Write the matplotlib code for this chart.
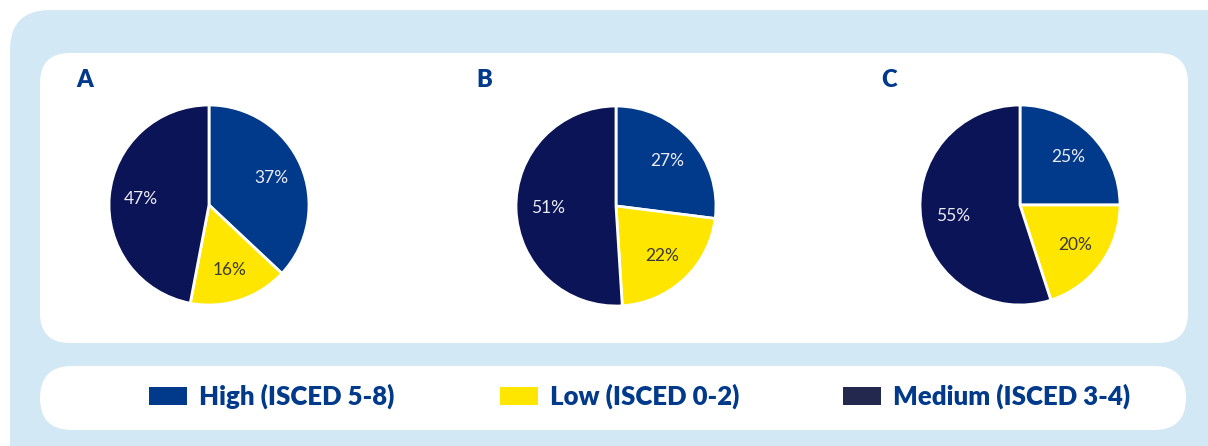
import matplotlib.pyplot as plt
from matplotlib.patches import FancyBboxPatch, Rectangle

plt.rcParams['font.family'] = ['Lato', 'DejaVu Sans']

# data
panels = ["A", "B", "C"]
categories = ["High (ISCED 5-8)", "Low (ISCED 0-2)", "Medium (ISCED 3-4)"]
shares_a = [37, 16, 47]
shares_b = [27, 22, 51]
shares_c = [25, 20, 55]
all_shares = [shares_a, shares_b, shares_c]

pie_colors = ["#013A8B", "#FFE600", "#0A1456"]
legend_colors = ["#013A8B", "#FFE600", "#23284F"]
label_colors = ["#ECECF4", "#3A3A3A", "#ECECF4"]
dark_blue = "#013A8B"

W, H = 1208, 446
fig = plt.figure(figsize=(W / 100, H / 100), dpi=100)

# background in pixel coordinates
bg = fig.add_axes([0, 0, 1, 1])
bg.set_xlim(0, W)
bg.set_ylim(H, 0)
bg.axis("off")
bg.add_patch(FancyBboxPatch((10, 10), 1260, 500,
                            boxstyle="round,pad=0,rounding_size=40",
                            fc="#D3E8F5", ec="none"))
bg.add_patch(FancyBboxPatch((40, 53), 1148, 290,
                            boxstyle="round,pad=0,rounding_size=30",
                            fc="white", ec="none"))
bg.add_patch(FancyBboxPatch((40, 366), 1146, 64,
                            boxstyle="round,pad=0,rounding_size=32",
                            fc="white", ec="none"))

centers = [(209, 205), (616, 206), (1020, 205)]
title_pos = [(85, 80), (484, 80), (889, 80)]
r = 100

for name, shares, (cx, cy), (tx, ty) in zip(panels, all_shares, centers, title_pos):
    bg.text(tx, ty, name, fontsize=17, fontweight="heavy", color=dark_blue,
            ha="center", va="center")
    ax = fig.add_axes([(cx - r) / W, 1 - (cy + r) / H, 2 * r / W, 2 * r / H])
    wedges, texts, autotexts = ax.pie(
        shares, colors=pie_colors, startangle=90, counterclock=False,
        autopct="%d%%", pctdistance=0.68, radius=1,
        wedgeprops=dict(edgecolor="white", linewidth=2),
        textprops=dict(fontsize=12.5))
    for t, c in zip(autotexts, label_colors):
        t.set_color(c)
    ax.set_xlim(-1, 1)
    ax.set_ylim(-1, 1)
    ax.set_aspect("equal")

# legend row
patch_x = [149, 500, 843]
for x, cat, col in zip(patch_x, categories, legend_colors):
    bg.add_patch(Rectangle((x, 387), 38, 18, fc=col, ec="none"))
    bg.text(x + 50, 396, cat, fontsize=18.5, fontweight="heavy", color=dark_blue,
            ha="left", va="center")

fig.savefig("out.png", dpi=100)
